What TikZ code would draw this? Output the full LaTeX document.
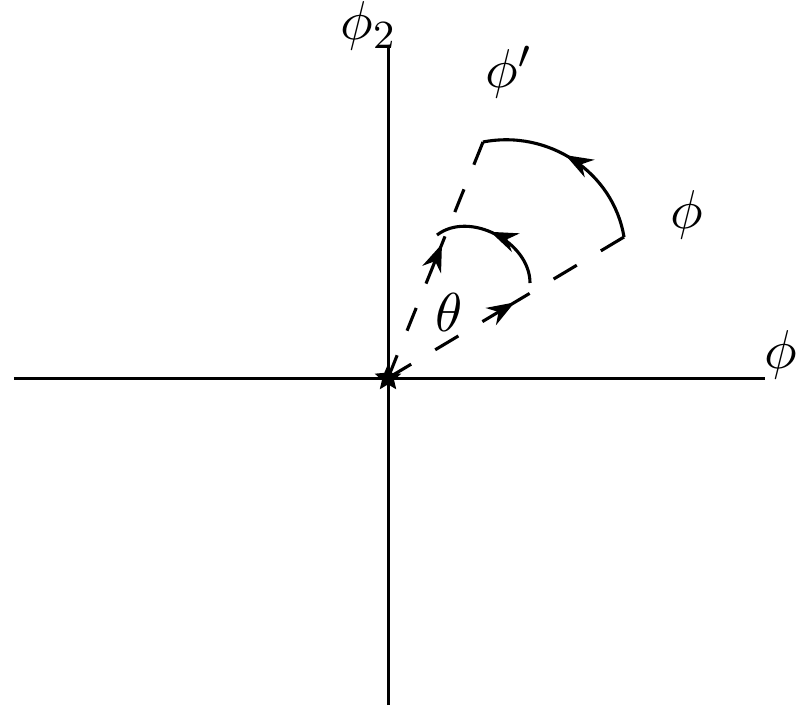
\documentclass[tikz,border=0pt]{standalone}
\usepackage{amsmath}
\usepackage{tikz}
\usetikzlibrary{
    arrows.meta,
    calc,
    shapes.geometric,
    decorations.markings
}

\begin{document}
\begin{tikzpicture}[
    x=2pt,
    y=2pt,
    line width=0.62pt,
    axis/.style={
        black,
        line width=0.6pt
    },
    rayupper/.style={
        dash pattern=on 4.9pt off 5.3pt
    },
    raylower/.style={
        dash pattern=on 5.4pt off 5.6pt
    },
    midarrow/.style={
        postaction={decorate},
        decoration={
            markings,
            mark=at position #1 with {\arrow{Stealth[length=5.5pt,width=4pt]}}
        }
    },
    axislabel/.style={
        anchor=base west,
        inner sep=0pt,
        font=\fontsize{11}{13}\selectfont
    }
]

\useasboundingbox (-38.8,-33.0) rectangle (41.0,37.8);

% ============================================================
% AXES
% ============================================================

\coordinate (origin) at (0,0);
\coordinate (xleft) at (-37.4,0);
\coordinate (xright) at (37.7,0);
\coordinate (ybottom) at (0,-32.7);
\coordinate (ytop) at (0,33.1);

\draw[axis]
    (xleft) -- (xright);

\draw[axis]
    (ybottom) -- (ytop);

\node[axislabel] (phitwo)
    at (-4.9,33.8) {$\phi_2$};

\node[axislabel] (phione)
    at (37.5,1.0) {$\phi_1$};

% ============================================================
% RAYS
% ============================================================

\coordinate (upper) at (9.5,23.6);
\coordinate (lower) at (23.6,14.1);

\coordinate (upA) at ($(origin)!0.40!(upper)$);
\coordinate (upB) at ($(origin)!0.60!(upper)$);
\coordinate (lowA) at ($(origin)!0.40!(lower)$);
\coordinate (lowB) at ($(origin)!0.60!(lower)$);

% Upper ray
\draw[rayupper]
    (origin) -- (upA);

\draw[rayupper]
    (upper) -- (upB);

\draw[midarrow=0.84]
    (upA) -- (upB);

% Lower ray
\draw[raylower]
    (origin) -- (lowA);

\draw[raylower]
    (lower) -- (lowB);

\draw[midarrow=0.68]
    (lowA) -- (lowB);

% ============================================================
% ROTATION ARCS
% ============================================================

\coordinate (innerR) at (14.2,9.5);
\coordinate (innerL) at (4.9,14.3);

% Inner arc
\draw[midarrow=0.55]
    (innerR) to[out=90, in=37.5] (innerL);

% Outer arc
\draw[midarrow=0.55]
    (lower) to[out=99.5, in=11] (upper);

% Fixed point
\node[
    star,
    star points=5,
    star point ratio=2.2,
    fill=black,
    inner sep=0pt,
    minimum size=5.6pt
]
    (centre) at (origin) {};

% Labels
\node[axislabel] (phiprime)
    at (9.6,29.0) {$\phi'$};

\node[axislabel] (phi)
    at (28.1,15.0) {$\phi$};

\node[axislabel] (theta)
    at (4.6,4.7) {$\theta$};

\end{tikzpicture}
\end{document}
